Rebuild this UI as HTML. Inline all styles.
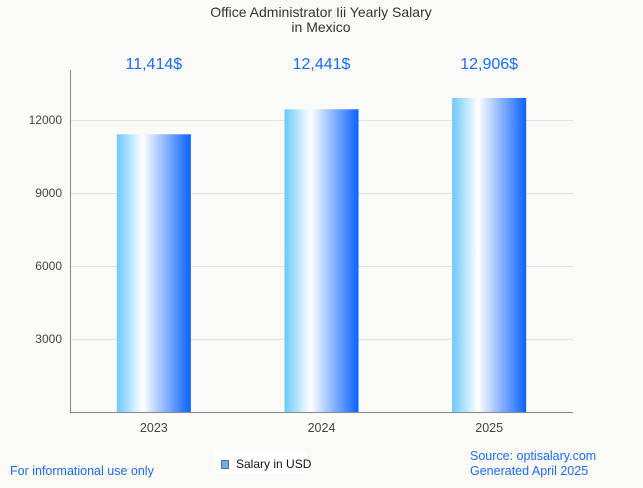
<!DOCTYPE html>
<html><head><meta charset="utf-8"><style>
body{margin:0;background:#fafaf8;font-family:"Liberation Sans",sans-serif;}
</style></head><body>
<svg width="643" height="483" xmlns="http://www.w3.org/2000/svg">
<defs><linearGradient id="g" x1="0" x2="1" y1="0" y2="0">
<stop offset="0" stop-color="#6cc8ff"/><stop offset="0.35" stop-color="#ffffff"/><stop offset="1" stop-color="#0a62ff"/>
</linearGradient></defs>
<rect width="643" height="483" fill="#fafaf8"/>
<text x="321" y="17" text-anchor="middle" font-size="14" fill="#333">Office Administrator Iii Yearly Salary</text>
<text x="321" y="32" text-anchor="middle" font-size="14" fill="#333">in Mexico</text>
<g id="grid"></g><g id="bars"></g>
<line x1="70.5" y1="70" x2="70.5" y2="412" stroke="#888"/>
<line x1="70" y1="412.5" x2="573" y2="412.5" stroke="#888"/>
<text x="10" y="475" font-size="12.5" fill="#1a6bff">For informational use only</text>
<rect x="215" y="452" width="92" height="21" fill="#fff"/>
<rect x="221.5" y="460.5" width="7" height="8" fill="#6aaef0" stroke="#555" stroke-width="0.8"/>
<text x="236" y="468" font-size="12" fill="#111">Salary in USD</text>
<text x="470" y="460" font-size="12.5" fill="#1a6bff">Source: optisalary.com</text>
<text x="470" y="475" font-size="12.5" fill="#1a6bff">Generated April 2025</text>
</svg>
<script>
const categories=["2023","2024","2025"];
const values=[11414,12441,12906];
const labels=["11,414$","12,441$","12,906$"];
const ticks=[3000,6000,9000,12000];
const ns="http://www.w3.org/2000/svg";
const x0=70,x1=573,yb=412,scale=73/3000;
const y=v=>yb-v*scale;
const bw=(x1-x0)/categories.length;
const cx=i=>x0+bw*(i+0.5);
const grid=document.getElementById('grid'),bars=document.getElementById('bars');
function mk(tag,attrs,parent){const e=document.createElementNS(ns,tag);for(const k in attrs)e.setAttribute(k,attrs[k]);parent.appendChild(e);return e;}
ticks.forEach(t=>{
 const l=mk('line',{x1:x0,x2:x1,y1:Math.round(y(t))+0.5,y2:Math.round(y(t))+0.5,stroke:'#e2e2e2'},grid);
 
 
 const tx=mk('text',{x:62,y:y(t)+4,'text-anchor':'end','font-size':12,fill:'#444'},grid);
 tx.textContent=t;
 
 
});
categories.forEach((c,i)=>{
 const r=mk('rect',{x:cx(i)-37,y:y(values[i]),width:74,height:values[i]*scale,fill:'url(#g)'},bars);
 
 
 const v=mk('text',{x:cx(i),y:69,'text-anchor':'middle','font-size':16,fill:'#1a6bff'},bars);
 v.textContent=labels[i];
 
 
 const xl=mk('text',{x:cx(i),y:432,'text-anchor':'middle','font-size':12.5,fill:'#444'},bars);
 xl.textContent=c;
 
 
});
</script>
</body></html>
